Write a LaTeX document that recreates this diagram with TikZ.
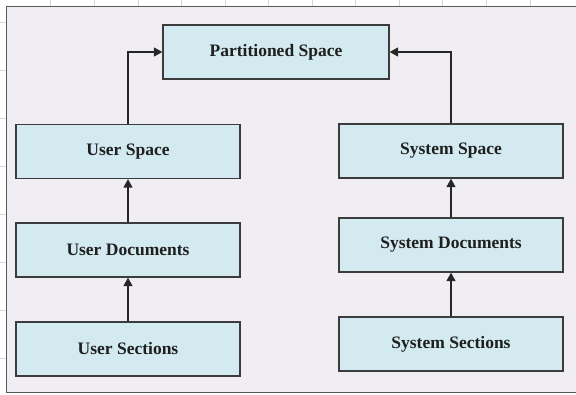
\documentclass[tikz,border=0pt]{standalone}
\usepackage{fontspec}
\setmainfont{Liberation Serif}
\usetikzlibrary{arrows.meta}
\definecolor{boxfill}{HTML}{D3EAF0}
\definecolor{boxline}{HTML}{3C3C3C}
\definecolor{framefill}{HTML}{F0EEF3}
\definecolor{gridc}{HTML}{D4D4D4}
\tikzset{
  box/.style={draw=boxline, fill=boxfill, line width=1.3pt, minimum width=224pt, minimum height=54pt, inner sep=0pt,
    font=\fontsize{17.5}{20}\selectfont\bfseries, text=black!88},
  conn/.style={draw=black!85, line width=1.3pt, -{Triangle[length=8.5pt,width=9pt]}},
  gridline/.style={draw=gridc, line width=0.6pt}
}
\begin{document}
\begin{tikzpicture}[x=1pt,y=-1pt]
\useasboundingbox (0,0) rectangle (576,395);
% spreadsheet grid remnants
\foreach \gx in {50,94,138,181,225,268,312,355,399,442,486,530}
  \draw[gridline] (\gx,0) -- (\gx,6.5);
\foreach \gy in {22,70,118,166,214,262,310,358}
  \draw[gridline] (0,\gy) -- (6,\gy);
% frame
\draw[draw=black!65, fill=framefill, line width=1.3pt] (6.5,6.5) rectangle (590,392.5);
% boxes
\node[box, minimum width=226pt] (part) at (276,52) {Partitioned Space};
\node[box] (uspace) at (128,151.5) {User Space};
\node[box] (udocs) at (128,250) {User Documents};
\node[box] (usect) at (128,349) {User Sections};
\node[box] (sspace) at (451,151) {System Space};
\node[box] (sdocs) at (451,245) {System Documents};
\node[box] (ssect) at (451,344) {System Sections};
% connectors
\draw[conn] (usect.north) -- (udocs.south);
\draw[conn] (udocs.north) -- (uspace.south);
\draw[conn] (ssect.north) -- (sdocs.south);
\draw[conn] (sdocs.north) -- (sspace.south);
\draw[conn] (uspace.north) |- (part.west);
\draw[conn] (sspace.north) |- (part.east);
\end{tikzpicture}
\end{document}
